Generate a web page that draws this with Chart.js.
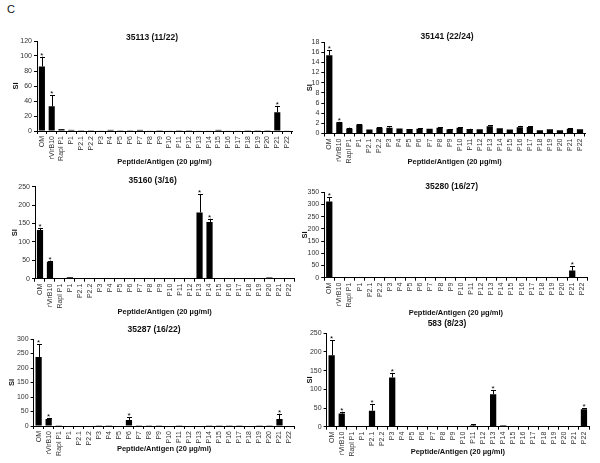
<!DOCTYPE html>
<html>
<head>
<meta charset="utf-8">
<script src="https://cdn.jsdelivr.net/npm/chart.js@4/dist/chart.umd.min.js"></script>
<style>
  body { margin:0; background:#fff; width:600px; height:463px; position:relative; overflow:hidden;
         font-family:'Liberation Sans Narrow','Liberation Sans',Arial,sans-serif; }
  canvas { position:absolute; }
  .ttl { position:absolute; font-weight:bold; font-size:8.5px; transform:translate(-50%,-50%); white-space:nowrap; color:#111; }
  #lblC { position:absolute; left:7px; top:3px; font-size:11px; color:#111; font-family:'Liberation Sans',Arial,sans-serif; }
</style>
</head>
<body>
<div id="lblC">C</div>

<script>
// categories (peptides / antigens)
const cats = ['OM','rVirB10','Rapl P1','P1','P2.1','P2.2','P3','P4','P5','P6','P7','P8','P9','P10',
              'P11','P12','P13','P14','P15','P16','P17','P18','P19','P20','P21','P22'];

// 35113 (11/22)
const si35113  = [86, 33, 2.5, 1.5, 0.3, 0.3, 0.8, 1.5, 1, 0.3, 1.5, 0.8, 0.3, 0.8, 0.3, 0.3, 0.8, 0.8, 1.5, 0.8, 0.8, 0.3, 0.3, 0.3, 25, 0.8];
const err35113 = [13, 15, 0, 0, 0, 0, 0, 0, 0, 0, 0, 0, 0, 0, 0, 0, 0, 0, 0, 0, 0, 0, 0, 0, 8.5, 0];
const sig35113 = ['OM','rVirB10','P21'];

// 35141 (22/24)
const si35141  = [15.4, 2.2, 1.0, 1.75, 0.8, 1.15, 1.15, 1.0, 0.9, 0.95, 0.95, 1.15, 0.85, 1.15, 0.9, 0.85, 1.45, 1.05, 0.8, 1.25, 1.3, 0.65, 0.85, 0.65, 0.95, 0.85];
const err35141 = [1.0, 0.1, 0.15, 0.1, 0, 0.05, 0.3, 0, 0, 0.05, 0, 0.1, 0.05, 0.05, 0.05, 0, 0.15, 0, 0, 0.25, 0.1, 0, 0, 0, 0.05, 0];
const sig35141 = ['OM','rVirB10'];

// 35160 (3/16)
const si35160  = [132, 46, 1, 4, 1.5, 0.5, 1, 1, 1, 1, 1, 1, 1, 1, 1, 1, 180, 154, 1, 1, 2, 1, 0.5, 3, 1, 2];
const err35160 = [6, 3, 0, 0, 0, 0, 0, 0, 0, 0, 0, 0, 0, 0, 0, 0, 50, 9, 0, 0, 0, 0, 0, 0, 0, 0];
const sig35160 = ['OM','rVirB10','P13','P14'];

// 35280 (16/27)
const si35280  = [312, 1, 0, 0, 1.5, 0, 0, 1.5, 0, 0, 0, 0, 0, 0, 0, 0, 0, 0, 0, 0, 0, 0, 0, 3, 29, 0];
const err35280 = [18, 0, 0, 0, 0, 0, 0, 0, 0, 0, 0, 0, 0, 0, 0, 0, 0, 0, 0, 0, 0, 0, 0, 0, 19, 0];
const sig35280 = ['OM','P21'];

// 35287 (16/22)
const si35287  = [238, 24, 1, 0, 0, 0, 2.5, 1, 0, 21, 1, 1, 1, 0, 1, 1.5, 1.5, 3, 1, 1, 1, 0, 1, 1, 24, 0];
const err35287 = [44, 4, 0, 0, 0, 0, 0, 0, 0, 10, 0, 0, 0, 0, 0, 0, 0, 0, 0, 0, 0, 0, 0, 0, 18, 0];
const sig35287 = ['OM','rVirB10','P6','P21'];

// 583 (8/23)
const si583  = [191, 35, 0, 0, 43, 1, 132, 1, 1, 0, 1, 1, 0, 0, 3, 0, 87, 3, 1, 0, 0, 1, 1, 1, 0, 47];
const err583 = [41, 5, 0, 0, 18, 0, 12, 0, 0, 0, 0, 0, 0, 0, 4, 0, 11, 0, 0, 0, 0, 0, 0, 0, 0, 3];
const sig583 = ['OM','rVirB10','P2.1','P3','P13','P22'];

const yMax  = [120, 18, 250, 350, 300, 250];
const yStep = [20, 2, 50, 50, 50, 50];

const FONT = "'Liberation Sans Narrow','Liberation Sans',Arial,sans-serif";

// layout: canvas box, plot area (l,t,r,b), title centre, "SI" x, x-title y
const panels = [
  {title:'35113 (11/22)', v:si35113, e:err35113, s:sig35113, cv:[0,28,300,142],  a:[37,41,292,131],      tc:[152,37.3],   siX:16,    xtY:162.3},
  {title:'35141 (22/24)', v:si35141, e:err35141, s:sig35141, cv:[300,28,300,142], a:[324.3,42,585,133.5], tc:[447,35.7],   siX:310,   xtY:162.3},
  {title:'35160 (3/16)',  v:si35160, e:err35160, s:sig35160, cv:[0,170,300,150],  a:[35,186.7,294.3,278.7], tc:[152.7,180], siX:15,    xtY:312.3},
  {title:'35280 (16/27)', v:si35280, e:err35280, s:sig35280, cv:[300,170,300,150],a:[324.2,192.3,587.4,277.7], tc:[451.7,185.7], siX:304, xtY:313},
  {title:'35287 (16/22)', v:si35287, e:err35287, s:sig35287, cv:[0,320,300,143],  a:[33.6,339,295.7,426],  tc:[154,329.3],   siX:12,    xtY:449},
  {title:'583 (8/23)',    v:si583,   e:err583,   s:sig583,   cv:[300,320,300,143],a:[326.6,333.3,589,426.7], tc:[447,323.3], siX:310,   xtY:451.5},
];

// upper error bars + significance asterisks
const errBars = {
  id:'errBars',
  afterDatasetsDraw(chart, args, opts) {
    const ctx = chart.ctx, ys = chart.scales.y;
    const meta = chart.getDatasetMeta(0);
    const data = chart.data.datasets[0].data;
    ctx.save();
    ctx.strokeStyle = '#000'; ctx.fillStyle = '#000'; ctx.lineWidth = 1;
    ctx.font = '8px ' + FONT; ctx.textAlign = 'center'; ctx.textBaseline = 'alphabetic';
    meta.data.forEach((bar, i) => {
      const e = opts.errs[i] || 0;
      const top = ys.getPixelForValue(data[i] + e);
      if (e > 0) {
        const x = Math.round(bar.x) + 0.5;
        ctx.beginPath();
        ctx.moveTo(x, bar.y); ctx.lineTo(x, top);
        ctx.moveTo(x - 2.5, Math.round(top) + 0.5); ctx.lineTo(x + 2.5, Math.round(top) + 0.5);
        ctx.stroke();
      }
      if (opts.stars.includes(chart.data.labels[i])) ctx.fillText('*', bar.x, top + 1);
    });
    ctx.restore();
  }
};

panels.forEach((p, k) => {
  const [cx, cy, cw, ch] = p.cv;
  const [al, at, ar, ab] = p.a;
  const cnv = document.createElement('canvas');
  cnv.width = cw; cnv.height = ch;
  cnv.style.left = cx + 'px'; cnv.style.top = cy + 'px';
  document.body.appendChild(cnv);

  const t = document.createElement('div');
  t.className = 'ttl'; t.textContent = p.title;
  t.style.left = p.tc[0] + 'px'; t.style.top = p.tc[1] + 'px';
  document.body.appendChild(t);

  const tfont = 7.5, lh = tfont * 1.2;
  const yW = al - cx, padR = cx + cw - ar, padT = at - cy, xH = cy + ch - ab;
  const siPad = Math.max(p.siX - cx - lh / 2, 0);
  const xtPad = cy + ch - p.xtY - lh / 2;

  new Chart(cnv, {
    type:'bar',
    data:{
      labels:cats,
      datasets:[{data:p.v, backgroundColor:'#000', borderWidth:0, barPercentage:0.62, categoryPercentage:1}]
    },
    options:{
      responsive:false, animation:false,
      layout:{padding:{left:0, right:padR, top:padT, bottom:0}},
      plugins:{legend:{display:false}, tooltip:{enabled:false}, errBars:{errs:p.e, stars:p.s}},
      scales:{
        x:{
          afterFit:s => { s.height = xH; },
          ticks:{color:'#333', font:{family:FONT, size:7}, minRotation:90, maxRotation:90, autoSkip:false, padding:2},
          grid:{drawOnChartArea:false, tickLength:3, color:'#000', offset:true},
          border:{color:'#000', width:1},
          title:{display:true, text:'Peptide/Antigen (20 µg/ml)', color:'#111', font:{family:FONT, size:tfont, weight:'bold'}, padding:{top:0, bottom:xtPad}}
        },
        y:{
          min:0, max:yMax[k],
          afterFit:s => { s.width = yW; },
          ticks:{stepSize:yStep[k], autoSkip:false, color:'#333', font:{family:FONT, size:7}, padding:2},
          grid:{drawOnChartArea:false, tickLength:3, color:'#000'},
          border:{color:'#000', width:1},
          title:{display:true, text:'SI', color:'#111', font:{family:FONT, size:tfont, weight:'bold'}, padding:{top:siPad, bottom:0}}
        }
      }
    },
    plugins:[errBars]
  });
});
</script>
</body>
</html>
